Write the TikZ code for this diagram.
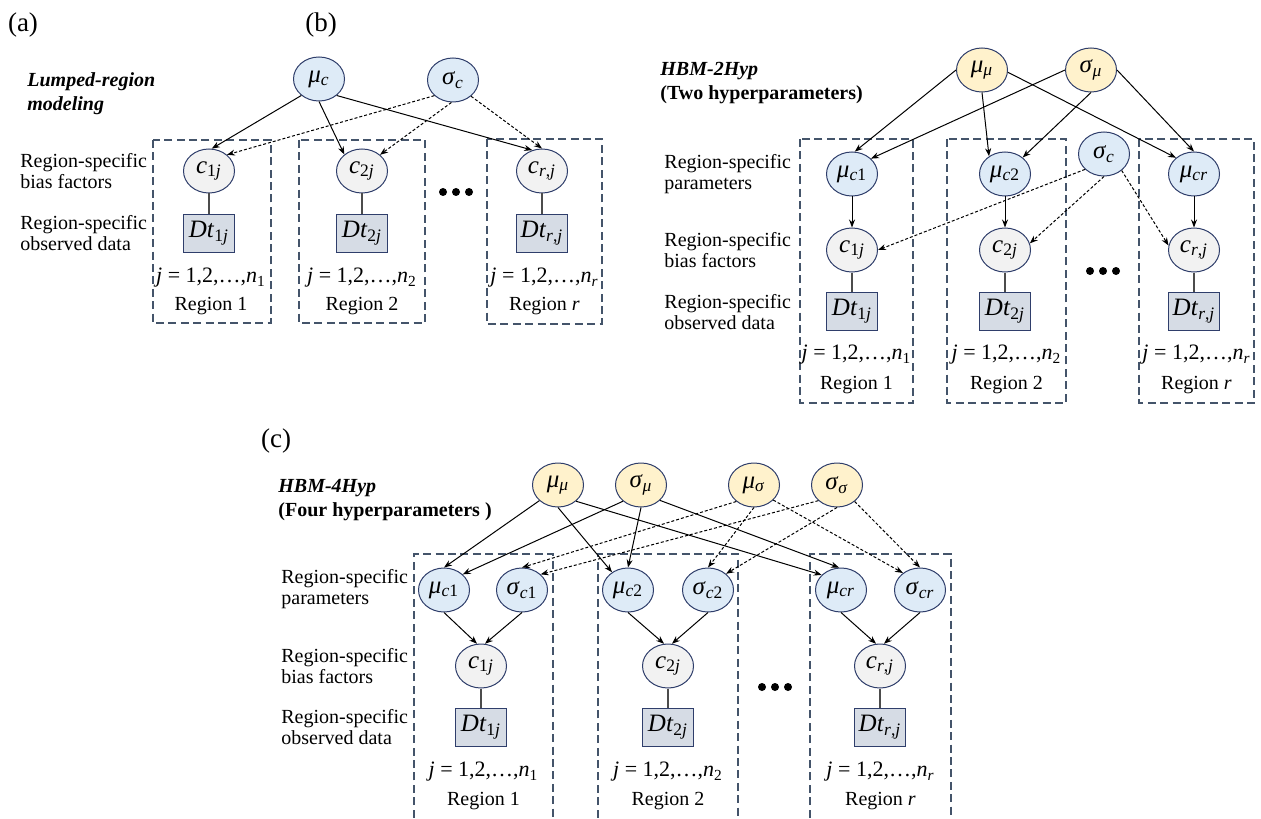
\documentclass[tikz,border=0pt]{standalone}
\usepackage{fontspec}
\setmainfont{Liberation Serif}
\usetikzlibrary{shapes.geometric,arrows.meta}
\definecolor{navy}{HTML}{2F3E6B}
\definecolor{hypY}{HTML}{FFF2CC}
\definecolor{parB}{HTML}{DEEBF7}
\definecolor{cG}{HTML}{F2F2F2}
\definecolor{dtB}{HTML}{D6DCE5}
\definecolor{regC}{HTML}{44546A}
\newcommand{\vv}[2]{\textit{#1}\textsubscript{#2}}
\newcommand{\jlab}[1]{\textit{j} = 1,2,…,\textit{n}\textsubscript{#1}}
\begin{document}
\begin{tikzpicture}[x=0.5pt,y=-0.5pt,
  every node/.style={inner sep=0pt},
  ell/.style={ellipse,draw=navy,line width=0.5pt,minimum width=25.5pt,minimum height=22pt,font=\fontsize{12.5}{14}\selectfont},
  hnode/.style={ell,fill=hypY},
  pnode/.style={ell,fill=parB},
  cnode/.style={ell,fill=cG},
  dnode/.style={rectangle,draw=navy,line width=0.5pt,fill=dtB,minimum width=25.5pt,minimum height=19pt,font=\fontsize{12.5}{14}\selectfont},
  regbox/.style={draw=regC,line width=0.7pt,dash pattern=on 4pt off 2.2pt},
  arr/.style={-{Stealth[length=4pt,width=3pt]},line width=0.5pt},
  darr/.style={arr,dash pattern=on 1.5pt off 1pt},
  lnk/.style={line width=0.6pt,draw=black!70},
  lab/.style={anchor=west,align=left,font=\fontsize{10}{10.5}\selectfont},
  ttl/.style={anchor=west,align=left,font=\fontsize{10}{12}\selectfont\bfseries},
  plab/.style={font=\fontsize{13.5}{15}\selectfont},
  jtext/.style={font=\fontsize{11}{13}\selectfont},
  rtext/.style={font=\fontsize{10}{12}\selectfont},
  dot/.style={circle,fill=black,minimum size=4pt}
]
\useasboundingbox[fill=white] (0,0) rectangle (1261,818);

% ---------------- panel labels
\node[plab] (la) at (23,25) {(a)};
\node[plab] (lb) at (321,25) {(b)};
\node[plab] (lc) at (276,441) {(c)};

% ================= Panel (a)
\node[ttl] (ta) at (27,94) {\itshape Lumped-region\\\itshape modeling};
\node[lab] (a1) at (20,171.5) {Region-specific\\bias factors};
\node[lab] (a2) at (20,233) {Region-specific\\observed data};

\draw[regbox] (153,140) rectangle (271,323);
\draw[regbox] (299,140) rectangle (425,323);
\draw[regbox] (487,139) rectangle (602,324);

\node[pnode] (amuc) at (319,79) {\vv{μ}{\textit{c}}};
\node[pnode] (asic) at (453,80) {\vv{σ}{\textit{c}}};
\node[cnode] (ac1) at (209,171) {\vv{c}{1\textit{j}}};
\node[cnode] (ac2) at (362,171) {\vv{c}{2\textit{j}}};
\node[cnode] (acr) at (542,171) {\vv{c}{\textit{r},\textit{j}}};
\node[dnode] (ad1) at (209,233) {\vv{Dt}{1\textit{j}}};
\node[dnode] (ad2) at (362,233) {\vv{Dt}{2\textit{j}}};
\node[dnode] (adr) at (542,233) {\vv{Dt}{\textit{r},\textit{j}}};

\node[jtext] (aj1) at (211,278) {\jlab{1}};
\node[jtext] (aj2) at (362,278) {\jlab{2}};
\node[jtext] (ajr) at (544.5,278) {\jlab{\textit{r}}};
\node[rtext] (ar1) at (211,306) {Region 1};
\node[rtext] (ar2) at (362,306) {Region 2};
\node[rtext] (arr) at (544.5,306) {Region \textit{r}};

\node[dot] (ad1x) at (443,192) {};
\node[dot] (ad2x) at (456,192) {};
\node[dot] (ad3x) at (469,192) {};

\draw[arr] (amuc.223) -- (ac1.83);
\draw[arr] (amuc.270) -- (ac2.137);
\draw[arr] (amuc.317) -- (acr.115);
\draw[darr] (asic.220) -- (ac1.42);
\draw[darr] (asic.266) -- (ac2.42);
\draw[darr] (asic.318) -- (acr.90);
\draw[lnk] (ac1) -- (ad1);
\draw[lnk] (ac2) -- (ad2);
\draw[lnk] (acr) -- (adr);

% ================= Panel (b)
\node[ttl] (tb) at (660,83) {\itshape HBM-2Hyp\\(Two hyperparameters)};
\node[lab] (b1) at (664,174.5) {Region-specific\\parameters};
\node[lab] (b2) at (664,250.5) {Region-specific\\bias factors};
\node[lab] (b3) at (664,312.5) {Region-specific\\observed data};

\draw[regbox] (800,139) rectangle (913,403);
\draw[regbox] (947,139) rectangle (1066,403);
\draw[regbox] (1139,139) rectangle (1254,403);

\node[hnode] (bmm) at (982,70) {\vv{μ}{\textit{μ}}};
\node[hnode] (bsm) at (1091,70) {\vv{σ}{\textit{μ}}};
\node[pnode] (bm1) at (852,174) {\vv{μ}{\textit{c}1}};
\node[pnode] (bm2) at (1005,174) {\vv{μ}{\textit{c}2}};
\node[pnode] (bmr) at (1194,174) {\vv{μ}{\textit{cr}}};
\node[pnode] (bsc) at (1104,154) {\vv{σ}{\textit{c}}};
\node[cnode] (bc1) at (852,250) {\vv{c}{1\textit{j}}};
\node[cnode] (bc2) at (1005,250) {\vv{c}{2\textit{j}}};
\node[cnode] (bcr) at (1194,250) {\vv{c}{\textit{r},\textit{j}}};
\node[dnode] (bd1) at (852,311) {\vv{Dt}{1\textit{j}}};
\node[dnode] (bd2) at (1005,311) {\vv{Dt}{2\textit{j}}};
\node[dnode] (bdr) at (1194,311) {\vv{Dt}{\textit{r},\textit{j}}};

\node[jtext] (bj1) at (856.5,355) {\jlab{1}};
\node[jtext] (bj2) at (1006.5,355) {\jlab{2}};
\node[jtext] (bjr) at (1196.5,355) {\jlab{\textit{r}}};
\node[rtext] (br1) at (856.5,385) {Region 1};
\node[rtext] (br2) at (1006.5,385) {Region 2};
\node[rtext] (brr) at (1196.5,385) {Region \textit{r}};

\node[dot] (bd1x) at (1090,271) {};
\node[dot] (bd2x) at (1103,271) {};
\node[dot] (bd3x) at (1116,271) {};

\draw[arr] (bmm.180) -- (bm1.83);
\draw[arr] (bmm.270) -- (bm2.132);
\draw[arr] (bmm.355) -- (bmr.138);
\draw[arr] (bsm.180) -- (bm1.39);
\draw[arr] (bsm.270) -- (bm2.43);
\draw[arr] (bsm.0) -- (bmr.90);
\draw[darr] (bsc.219) -- (bc1.0);
\draw[darr] (bsc.270) -- (bc2.15);
\draw[darr] (bsc.317) -- (bcr.170);
\draw[arr] (bm1) -- (bc1);
\draw[arr] (bm2) -- (bc2);
\draw[arr] (bmr) -- (bcr);
\draw[lnk] (bc1) -- (bd1);
\draw[lnk] (bc2) -- (bd2);
\draw[lnk] (bcr) -- (bdr);

% ================= Panel (c)
\node[ttl] (tc) at (278,500) {\itshape HBM-4Hyp\\(Four hyperparameters )};
\node[lab] (c1l) at (281,589.5) {Region-specific\\parameters};
\node[lab] (c2l) at (281,666.5) {Region-specific\\bias factors};
\node[lab] (c3l) at (281,727.5) {Region-specific\\observed data};

\draw[regbox] (414,830) -- (414,554) -- (553,554) -- (553,830);
\draw[regbox] (598,830) -- (598,554) -- (738,554) -- (738,830);
\draw[regbox] (810,830) -- (810,554) -- (951,554) -- (951,830);

\node[hnode] (cmm) at (558,485) {\vv{μ}{\textit{μ}}};
\node[hnode] (csm) at (641,485) {\vv{σ}{\textit{μ}}};
\node[hnode] (cms) at (754,485) {\vv{μ}{\textit{σ}}};
\node[hnode] (css) at (837,485) {\vv{σ}{\textit{σ}}};
\node[pnode] (cm1) at (444,590) {\vv{μ}{\textit{c}1}};
\node[pnode] (cs1) at (522,590) {\vv{σ}{\textit{c}1}};
\node[pnode] (cm2) at (628,590) {\vv{μ}{\textit{c}2}};
\node[pnode] (cs2) at (708,590) {\vv{σ}{\textit{c}2}};
\node[pnode] (cmr) at (841,590) {\vv{μ}{\textit{cr}}};
\node[pnode] (csr) at (920,590) {\vv{σ}{\textit{cr}}};
\node[cnode] (cc1) at (481,666) {\vv{c}{1\textit{j}}};
\node[cnode] (cc2) at (668,666) {\vv{c}{2\textit{j}}};
\node[cnode] (ccr) at (880,666) {\vv{c}{\textit{r},\textit{j}}};
\node[dnode] (cd1) at (481,727) {\vv{Dt}{1\textit{j}}};
\node[dnode] (cd2) at (668,727) {\vv{Dt}{2\textit{j}}};
\node[dnode] (cdr) at (880,727) {\vv{Dt}{\textit{r},\textit{j}}};

\node[jtext] (cj1) at (483.5,772) {\jlab{1}};
\node[jtext] (cj2) at (668,772) {\jlab{2}};
\node[jtext] (cjr) at (880.5,772) {\jlab{\textit{r}}};
\node[rtext] (cr1) at (483.5,801) {Region 1};
\node[rtext] (cr2) at (668,801) {Region 2};
\node[rtext] (crr) at (880.5,801) {Region \textit{r}};

\node[dot] (cd1x) at (762,687) {};
\node[dot] (cd2x) at (775,687) {};
\node[dot] (cd3x) at (788,687) {};

\draw[arr] (cmm.220) -- (cm1.90);
\draw[arr] (cmm.270) -- (cm2.132);
\draw[arr] (cmm.318) -- (cmr.142);
\draw[arr] (csm.222) -- (cm1.40);
\draw[arr] (csm.270) -- (cm2.90);
\draw[arr] (csm.321) -- (cmr.95);
\draw[darr] (cms.223) -- (cs1.90);
\draw[darr] (cms.270) -- (cs2.90);
\draw[darr] (cms.322) -- (csr.135);
\draw[darr] (css.220) -- (cs1.40);
\draw[darr] (css.270) -- (cs2.42);
\draw[darr] (css.317) -- (csr.90);
\draw[arr] (cm1.south) -- (cc1.100);
\draw[arr] (cs1.south) -- (cc1.80);
\draw[arr] (cm2.south) -- (cc2.100);
\draw[arr] (cs2.south) -- (cc2.80);
\draw[arr] (cmr.south) -- (ccr.100);
\draw[arr] (csr.south) -- (ccr.80);
\draw[lnk] (cc1) -- (cd1);
\draw[lnk] (cc2) -- (cd2);
\draw[lnk] (ccr) -- (cdr);
\end{tikzpicture}
\end{document}
